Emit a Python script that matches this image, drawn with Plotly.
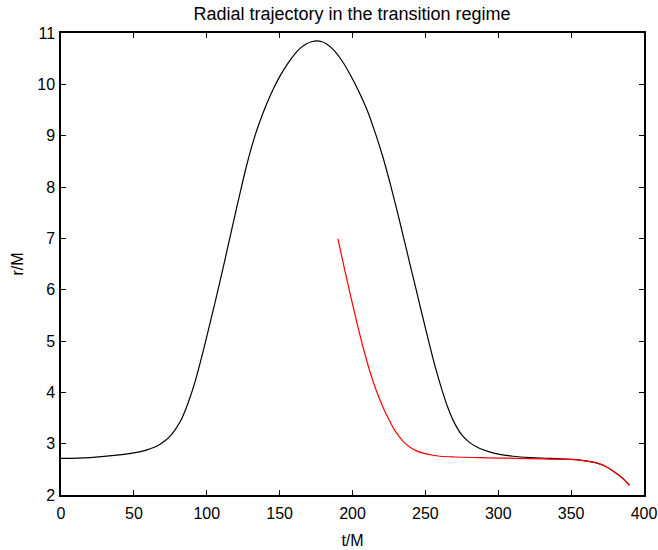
import plotly.graph_objects as go

# Black trajectory (full)
t_black = [0, 20, 40, 50, 59, 64, 68, 72, 75, 78, 82, 85, 88.5, 92, 95, 98.5, 102,
           105.5, 109, 113.5, 116, 118, 123, 127, 132, 136.5, 141, 145.5, 150, 155,
           159, 164, 168.5, 172, 175.5, 179, 182, 187, 193, 198, 204, 210, 216, 221,
           226, 231, 235, 240, 244, 248.5, 253, 257, 262, 266, 270, 275, 280, 287,
           294, 301, 310, 322, 335, 349, 356, 363, 369, 374, 379, 383.5, 387, 390]
r_black = [2.715, 2.73, 2.78, 2.82, 2.88, 2.93, 2.99, 3.07, 3.15, 3.26, 3.44, 3.63,
           3.90, 4.21, 4.52, 4.91, 5.32, 5.73, 6.15, 6.71, 7.03, 7.28, 7.90, 8.38,
           8.90, 9.28, 9.61, 9.90, 10.15, 10.38, 10.54, 10.70, 10.79, 10.83, 10.845,
           10.83, 10.79, 10.67, 10.45, 10.21, 9.88, 9.50, 9.02, 8.57, 8.05, 7.49,
           7.02, 6.43, 5.96, 5.43, 4.91, 4.47, 3.99, 3.66, 3.40, 3.17, 3.03, 2.91,
           2.84, 2.79, 2.755, 2.73, 2.715, 2.695, 2.68, 2.65, 2.61, 2.55, 2.465, 2.37,
           2.28, 2.19]

# Red trajectory
t_red = [190, 194, 198.3, 202, 205, 208, 212, 216, 219, 222, 225.7, 229, 232.6, 236,
         239.5, 244, 249, 255, 260, 270, 287, 301, 322, 335, 349, 356, 363, 369, 374,
         379, 383.5, 387, 390]
r_red = [6.99, 6.47, 5.93, 5.48, 5.13, 4.80, 4.40, 4.06, 3.84, 3.64, 3.43, 3.26, 3.12,
         3.01, 2.93, 2.86, 2.81, 2.775, 2.755, 2.74, 2.728, 2.72, 2.71, 2.70, 2.695,
         2.68, 2.65, 2.61, 2.55, 2.465, 2.37, 2.28, 2.19]

x_ticks = [0, 50, 100, 150, 200, 250, 300, 350, 400]
y_ticks = [2, 3, 4, 5, 6, 7, 8, 9, 10, 11]

FONT = "Liberation Sans, Arial, Helvetica, sans-serif"

fig = go.Figure()
fig.add_trace(go.Scatter(x=t_black, y=r_black, mode="lines",
                         line=dict(color="black", width=1.2, shape="spline", smoothing=1.0),
                         showlegend=False, hoverinfo="skip"))
fig.add_trace(go.Scatter(x=t_red, y=r_red, mode="lines",
                         line=dict(color="red", width=1.2, shape="spline", smoothing=1.0),
                         showlegend=False, hoverinfo="skip"))

axis_common = dict(showgrid=False, zeroline=False, showline=True, linecolor="black",
                   linewidth=1.5, mirror="allticks", ticks="inside", ticklen=5,
                   tickwidth=1, tickcolor="black", automargin=False,
                   tickfont=dict(family=FONT, size=16, color="black"))

fig.update_xaxes(range=[0, 400], tickvals=x_ticks, ticktext=[str(v) for v in x_ticks],
                 ticklabelstandoff=3,
                 title=dict(text="t/M", font=dict(family=FONT, size=16, color="black"), standoff=14),
                 **axis_common)
fig.update_yaxes(range=[2, 11], tickvals=y_ticks, ticktext=[str(v) for v in y_ticks],
                 ticklabelstandoff=1,
                 title=dict(text="r/M", font=dict(family=FONT, size=16, color="black"), standoff=10),
                 **axis_common)

fig.update_layout(
    width=658, height=550,
    margin=dict(l=61, r=14, t=33, b=55),
    paper_bgcolor="white", plot_bgcolor="white",
    title=dict(text="Radial trajectory in the transition regime", x=0.535, xanchor="center",
               y=0.975, yanchor="middle", font=dict(family=FONT, size=18, color="black")),
    font=dict(family=FONT, color="black"),
)

fig.write_html("out.html", config={"displayModeBar": False},
               post_script="document.body.style.margin='0';document.body.style.overflow='hidden';")
